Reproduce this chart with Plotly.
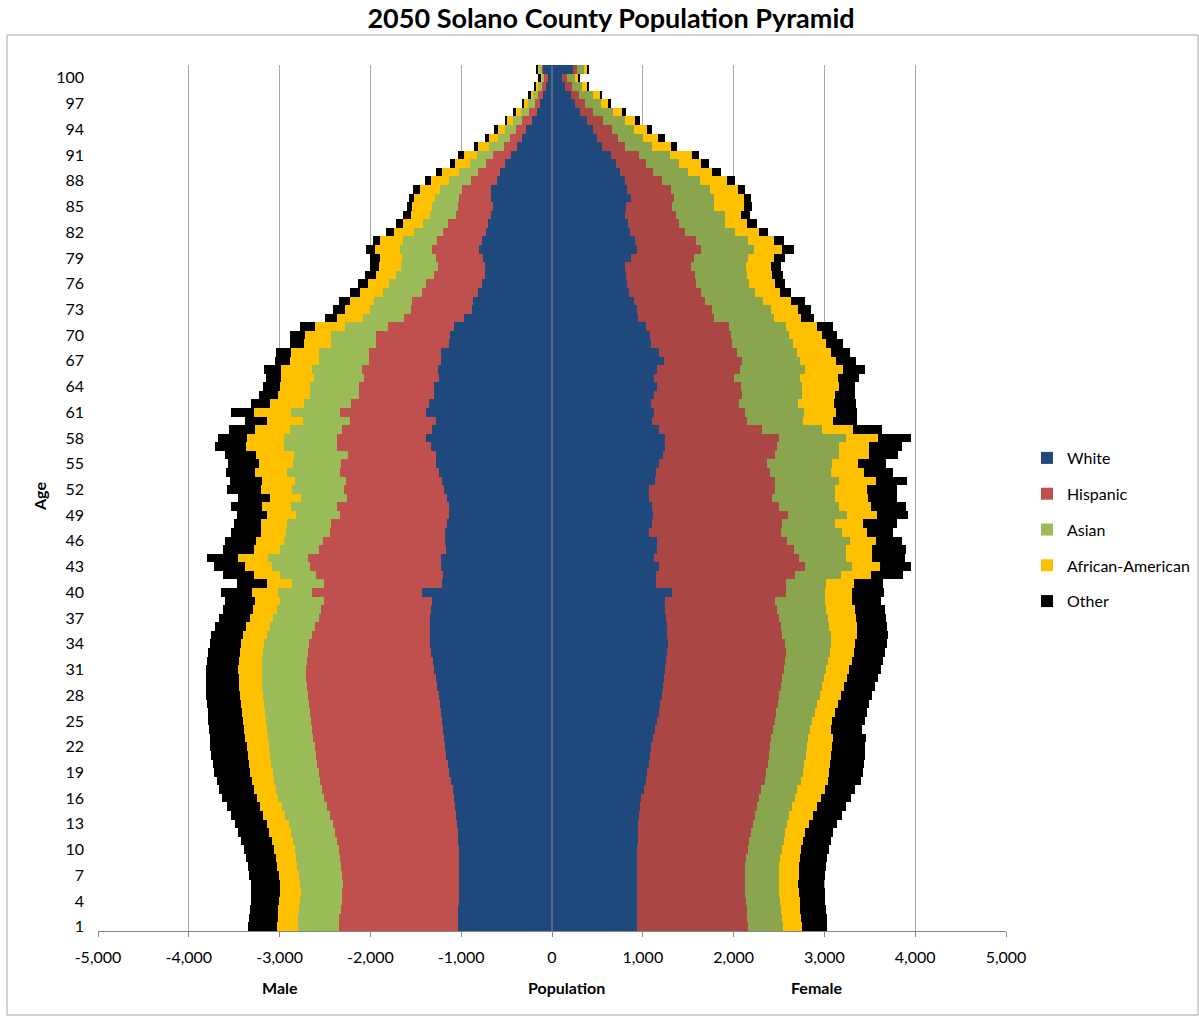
import plotly.graph_objects as go

# ---------------- data ----------------
ages = list(range(1, 102))  # 101 age rows (top row unlabeled)

male_white = [1033,1033,1033,1029,1026,1022,1022,1026,1026,1029,
              1033,1040,1048,1059,1070,1081,1095,1114,1132,1147,
              1162,1176,1187,1202,1213,1224,1235,1250,1265,1283,
              1301,1316,1331,1342,1345,1345,1342,1334,1327,1434,
              1209,1198,1228,1224,1162,1180,1180,1151,1136,1136,
              1151,1187,1209,1246,1279,1283,1334,1393,1320,1283,
              1393,1356,1305,1298,1242,1254,1224,1224,1136,1118,
              1077,967,886,868,812,776,739,739,757,805,
              776,728,702,673,654,676,676,610,573,518,
              452,382,335,287,224,169,129,99,70,48,99]
male_hispanic = [1316,1309,1294,1287,1283,1283,1287,1294,1305,1316,
                 1331,1349,1367,1390,1412,1430,1441,1441,1437,1437,
                 1437,1437,1441,1441,1441,1441,1445,1441,1434,1423,
                 1408,1386,1356,1331,1301,1268,1228,1206,1187,1213,
                 1305,1397,1434,1463,1408,1342,1268,1279,1195,1235,
                 1110,1106,1062,1084,1048,967,1033,974,996,937,
                 937,860,823,827,831,834,790,794,798,816,
                 728,662,662,673,625,607,559,522,526,515,
                 496,471,441,379,379,349,320,283,239,210,
                 195,147,129,110,103,85,59,51,44,37,22]
male_asian = [448,452,460,460,460,471,482,485,489,489,
              489,485,485,489,496,504,507,507,507,507,
              504,500,496,493,493,493,493,493,493,489,
              485,489,496,500,496,489,504,485,485,371,
              349,404,426,437,423,434,478,485,485,500,
              507,566,562,584,522,596,588,584,573,522,
              548,515,540,544,548,555,555,548,496,496,
              478,452,460,423,423,415,415,397,368,357,
              368,320,276,294,287,265,239,239,213,180,
              184,162,129,121,99,92,81,55,44,29,18]
male_african_american = [228,228,228,228,228,224,221,221,224,228,
                         232,239,239,243,239,239,243,246,250,250,
                         250,250,254,254,254,254,250,250,254,257,
                         261,257,254,250,261,265,257,268,276,283,
                         272,283,298,335,290,301,276,287,323,320,
                         342,349,357,360,382,419,412,408,386,397,
                         408,379,349,323,360,346,316,312,301,287,
                         323,283,268,265,250,228,221,246,246,276,
                         250,221,221,210,221,228,217,206,191,162,
                         143,121,103,81,70,55,40,37,26,18,22]
male_other = [323,320,316,316,316,316,320,327,331,335,
              338,342,349,353,364,375,382,386,393,397,
              401,401,393,390,386,382,379,375,368,364,
              357,357,353,349,349,342,338,331,323,349,
              331,342,342,338,335,349,338,305,327,342,
              349,371,353,320,338,335,342,320,283,239,
              246,210,210,191,173,184,169,158,158,173,
              169,140,140,121,118,110,121,103,103,92,
              81,85,81,85,59,59,74,62,59,55,
              59,44,44,40,26,26,22,18,18,18,18]

female_white = [940,940,940,940,940,940,940,940,940,940,
                944,947,951,958,969,984,1010,1036,1050,1065,
                1080,1094,1113,1135,1157,1175,1193,1212,1226,1237,
                1245,1256,1267,1278,1271,1267,1259,1248,1241,1326,
                1149,1142,1179,1124,1160,1160,1069,1105,1113,1105,
                1065,1065,1131,1149,1179,1223,1248,1248,1179,1102,
                1120,1087,1120,1160,1120,1160,1230,1179,1094,1076,
                1032,947,940,900,848,823,819,800,867,940,
                918,863,837,800,819,867,830,800,745,701,
                654,554,499,452,389,312,250,213,147,110,231]
female_hispanic = [1219,1212,1208,1201,1190,1182,1182,1190,1201,1215,
                   1230,1245,1263,1282,1293,1300,1296,1307,1311,1311,
                   1311,1307,1300,1296,1296,1296,1296,1293,1293,1300,
                   1307,1315,1307,1285,1267,1252,1241,1234,1212,1256,
                   1432,1531,1612,1594,1506,1432,1458,1432,1487,1395,
                   1359,1395,1322,1256,1193,1237,1234,1252,1135,1047,
                   1002,973,973,925,885,907,867,863,889,892,
                   918,837,826,789,789,767,753,734,698,698,
                   672,599,558,562,503,477,485,415,367,338,
                   301,246,228,209,173,140,110,84,73,55,48]
female_asian = [389,386,378,375,375,375,378,375,375,375,
                378,378,375,375,378,389,397,397,404,404,
                404,404,408,411,411,422,433,444,455,455,
                463,466,485,514,532,532,540,540,551,422,
                441,507,514,518,577,687,672,577,654,657,
                690,654,705,665,716,701,679,734,661,617,
                650,650,661,668,731,716,632,661,672,639,
                624,657,643,639,602,580,580,606,595,588,
                569,551,507,540,463,437,430,411,386,360,
                349,301,275,242,239,220,184,154,114,92,73]
female_african_american = [206,206,209,213,213,213,217,220,220,217,
                           217,220,242,261,283,294,301,297,286,283,
                           283,283,275,228,220,220,224,235,242,253,
                           261,264,264,264,294,308,312,312,301,301,
                           305,338,312,290,283,294,275,312,327,360,
                           367,360,408,367,283,327,327,356,341,330,
                           353,393,360,404,415,422,404,375,367,367,
                           349,305,301,301,268,283,272,268,286,308,
                           286,268,250,184,327,330,305,301,268,246,
                           242,206,165,143,118,99,73,73,51,37,37]
female_other = [279,283,283,283,286,290,286,294,297,305,
                308,308,312,319,319,323,338,371,371,371,
                367,364,367,349,364,356,345,338,338,345,
                345,345,345,353,338,334,330,330,323,353,
                319,349,341,360,371,283,283,375,341,378,
                323,327,349,319,312,323,367,367,323,268,
                239,250,228,176,228,239,220,202,184,169,
                173,140,140,162,129,118,121,118,125,129,
                110,99,106,92,92,84,81,92,92,84,
                70,70,73,51,48,48,37,26,22,18,11]

series_names = ["White", "Hispanic", "Asian", "African-American", "Other"]
male_series = [male_white, male_hispanic, male_asian, male_african_american, male_other]
female_series = [female_white, female_hispanic, female_asian, female_african_american, female_other]

x_tick_values = [-5000, -4000, -3000, -2000, -1000, 0, 1000, 2000, 3000, 4000, 5000]
x_tick_labels = ["-5,000", "-4,000", "-3,000", "-2,000", "-1,000", "0",
                 "1,000", "2,000", "3,000", "4,000", "5,000"]
y_tick_values = list(range(1, 101, 3))
y_tick_labels = [str(v) for v in y_tick_values]

# ---------------- styling ----------------
male_colors = ["#1F497D", "#C0504D", "#9BBB59", "#FFC000", "#000000"]
female_colors = ["#1F497D", "#AA4643", "#89A54E", "#FFC000", "#000000"]
FONT = "Lato, 'Open Sans', sans-serif"
GRID = "#A6A6A6"

W, H = 1199, 1019
L, R, T, B = 98, 1006, 65, 931  # plot area in pixels


def px_x(px):
    return (px - L) / (R - L)


def px_y(py):
    return (B - py) / (B - T)


fig = go.Figure()
for name, vals, col in zip(series_names, male_series, male_colors):
    fig.add_trace(go.Bar(
        y=ages, x=[-v for v in vals], orientation="h", name=name,
        marker=dict(color=col, line=dict(width=0)),
        legendgroup=name, showlegend=True,
        hovertemplate=name + " (Male), age %{y}: %{customdata}<extra></extra>",
        customdata=vals,
    ))
for name, vals, col in zip(series_names, female_series, female_colors):
    fig.add_trace(go.Bar(
        y=ages, x=vals, orientation="h", name=name,
        marker=dict(color=col, line=dict(width=0)),
        legendgroup=name, showlegend=False,
        hovertemplate=name + " (Female), age %{y}: %{x}<extra></extra>",
    ))

fig.update_layout(
    width=W, height=H,
    margin=dict(l=L, r=W - R, t=T, b=H - B, autoexpand=False),
    barmode="relative", bargap=0,
    paper_bgcolor="white", plot_bgcolor="white",
    font=dict(family=FONT, size=16, color="#000000"),
    title=dict(text="<b>2050 Solano County Population Pyramid</b>",
               x=611 / W, xanchor="center", y=1 - 19 / H, yanchor="middle",
               font=dict(family=FONT, size=27, color="#000000")),
    legend=dict(x=px_x(1027), xanchor="left", y=px_y(441), yanchor="top",
                traceorder="grouped", tracegroupgap=12, itemwidth=30,
                font=dict(family=FONT, size=16), bgcolor="rgba(0,0,0,0)"),
    showlegend=True,
)

fig.update_xaxes(
    range=[-5000, 5000], tickvals=x_tick_values, ticktext=x_tick_labels,
    showgrid=True, gridcolor=GRID, gridwidth=1, zeroline=False,
    showline=True, linecolor="#868686", linewidth=1,
    ticks="outside", ticklen=5, tickcolor="#868686",
    ticklabelstandoff=7,
    tickfont=dict(family=FONT, size=16), fixedrange=True,
)
fig.update_yaxes(
    range=[0.5, 101.5], tickvals=y_tick_values, ticktext=y_tick_labels,
    showgrid=False, zeroline=False, showline=False, ticks="",
    ticklabelstandoff=13,
    tickfont=dict(family=FONT, size=16), fixedrange=True,
)

shapes = [
    # vertical axis line at 0 drawn over the bars
    dict(type="line", xref="x", yref="paper", x0=0, x1=0, y0=0, y1=1,
         line=dict(color="#8C8C8C", width=1), layer="above"),
    # chart border
    dict(type="rect", xref="paper", yref="paper",
         x0=px_x(7), x1=px_x(1198), y0=px_y(1015), y1=px_y(35),
         line=dict(color="#A6A6A6", width=1), fillcolor="rgba(0,0,0,0)", layer="below"),
]
fig.update_layout(shapes=shapes)

annotations = [
    dict(text="<b>Age</b>", xref="paper", yref="paper", x=px_x(40), y=px_y(497),
         textangle=-90, showarrow=False, font=dict(family=FONT, size=16),
         xanchor="center", yanchor="middle"),
    dict(text="<b>Male</b>", xref="paper", yref="paper", x=px_x(280), y=px_y(987),
         showarrow=False, font=dict(family=FONT, size=16), xanchor="center", yanchor="middle"),
    dict(text="<b>Population</b>", xref="paper", yref="paper", x=px_x(566), y=px_y(987),
         showarrow=False, font=dict(family=FONT, size=16), xanchor="center", yanchor="middle"),
    dict(text="<b>Female</b>", xref="paper", yref="paper", x=px_x(816), y=px_y(987),
         showarrow=False, font=dict(family=FONT, size=16), xanchor="center", yanchor="middle"),
]
fig.update_layout(annotations=annotations)

# remove the browser's default 8px body margin so pixel positions match the reference
fig.write_html("out.html", config={"displayModeBar": False},
               post_script="document.body.style.margin='0';")
